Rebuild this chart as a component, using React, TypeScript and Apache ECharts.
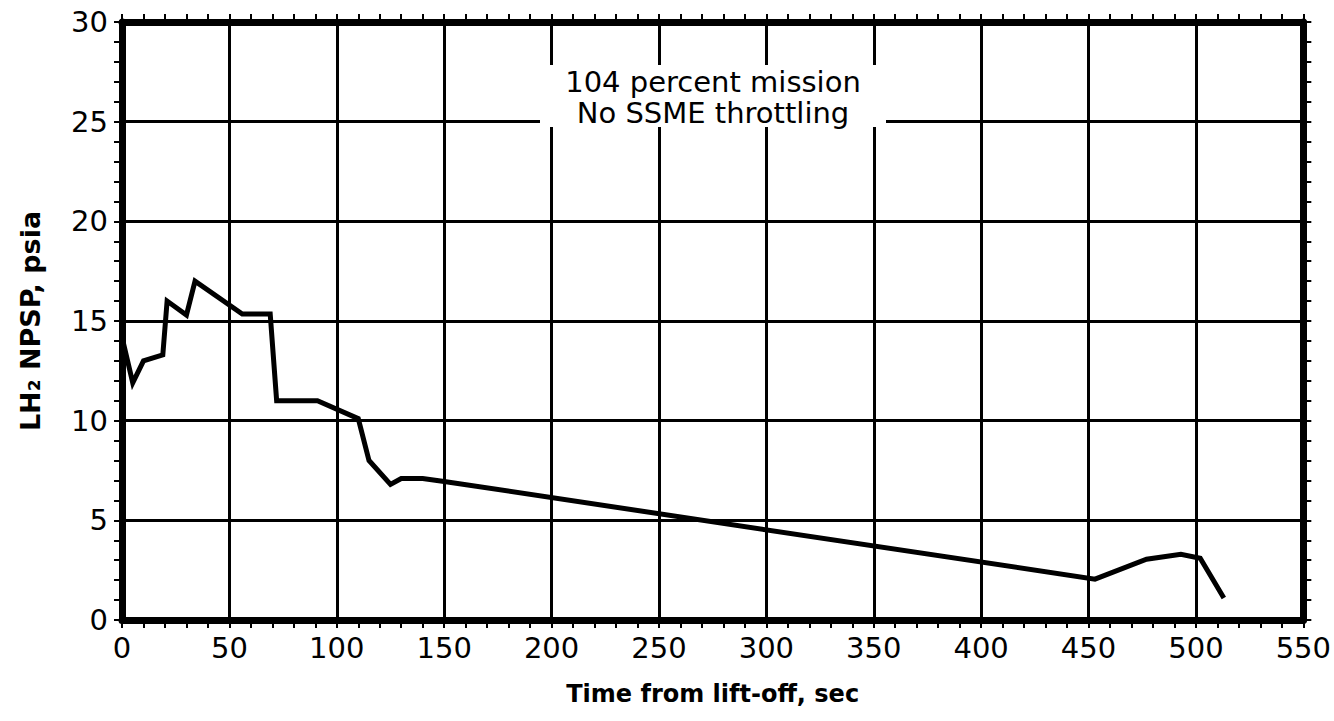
import React, { useEffect, useRef } from "react";
import * as echarts from "echarts";

const timeSec = [0, 5, 10, 19, 21, 30, 34, 56, 69, 72, 91, 110, 115, 125, 130, 140, 150, 453, 477, 493, 502, 513];
const npspPsia = [14.2, 11.9, 13.0, 13.3, 16.0, 15.3, 17.0, 15.35, 15.35, 11.0, 11.0, 10.1, 8.0, 6.8, 7.1, 7.1, 6.95, 2.05, 3.05, 3.3, 3.1, 1.1];
const xAxisName = "Time from lift-off, sec";
const yAxisName = "LH\u2082 NPSP, psia";
const annotationLines = ["104 percent mission", "No SSME throttling"];

const FONT = "DejaVu Sans";

export default function App() {
  const ref = useRef<HTMLDivElement>(null);
  useEffect(() => {
    if (!ref.current) return;
    const chart = echarts.init(ref.current, null, { renderer: "svg" });
    const data = timeSec.map((t, i) => [t, npspPsia[i]]);
    const baseAxis = {
      axisLine: { show: true, onZero: false, lineStyle: { color: "#000", width: 7 } },
      axisTick: { show: true, inside: false, length: 8, lineStyle: { color: "#000", width: 2 } },
      minorTick: { show: true, splitNumber: 5, length: 8, lineStyle: { color: "#000", width: 2 } },
    };
    chart.setOption({
      animation: false,
      backgroundColor: "#fff",
      grid: { left: 122, right: 30, top: 22, bottom: 101, containLabel: false },
      xAxis: [
        {
          ...baseAxis,
          type: "value",
          min: 0,
          max: 550,
          interval: 50,
          position: "bottom",
          name: xAxisName,
          nameLocation: "middle",
          nameGap: 62,
          nameTextStyle: { fontFamily: FONT, fontSize: 24, color: "#000", fontWeight: "bold" },
          axisLabel: { fontFamily: FONT, fontSize: 29, color: "#000", margin: 13 },
          splitLine: { show: true, lineStyle: { color: "#000", width: 3 } },
        },
        {
          ...baseAxis,
          type: "value",
          min: 0,
          max: 550,
          interval: 50,
          position: "top",
          axisLabel: { show: false },
          splitLine: { show: false },
        },
      ],
      yAxis: [
        {
          ...baseAxis,
          type: "value",
          min: 0,
          max: 30,
          interval: 5,
          position: "left",
          name: yAxisName,
          nameLocation: "middle",
          nameGap: 78,
          nameTextStyle: { fontFamily: FONT, fontSize: 27, color: "#000", fontWeight: "bold" },
          axisLabel: { fontFamily: FONT, fontSize: 29, color: "#000", margin: 14 },
          splitLine: { show: true, lineStyle: { color: "#000", width: 3 } },
        },
        {
          ...baseAxis,
          type: "value",
          min: 0,
          max: 30,
          interval: 5,
          position: "right",
          axisLabel: { show: false },
          splitLine: { show: false },
        },
      ],
      graphic: [
        {
          type: "rect",
          left: 540,
          top: 65,
          z: 100,
          shape: { width: 346, height: 62 },
          style: { fill: "#fff", stroke: null },
        },
        {
          type: "text",
          x: 713,
          y: 97,
          z: 101,
          style: {
            text: annotationLines.join("\n"),
            fontFamily: FONT,
            fontSize: 29,
            lineHeight: 31,
            fill: "#000",
            align: "center",
            verticalAlign: "middle",
          },
        },
      ],
      series: [
        {
          type: "line",
          data,
          xAxisIndex: 0,
          yAxisIndex: 0,
          showSymbol: false,
          symbol: "none",
          lineStyle: { color: "#000", width: 5, join: "miter" },
          z: 5,
        },
      ],
    });
    return () => chart.dispose();
  }, []);
  return <div ref={ref} style={{ width: 1334, height: 721, position: "absolute", left: 0, top: 0 }} />;
}
